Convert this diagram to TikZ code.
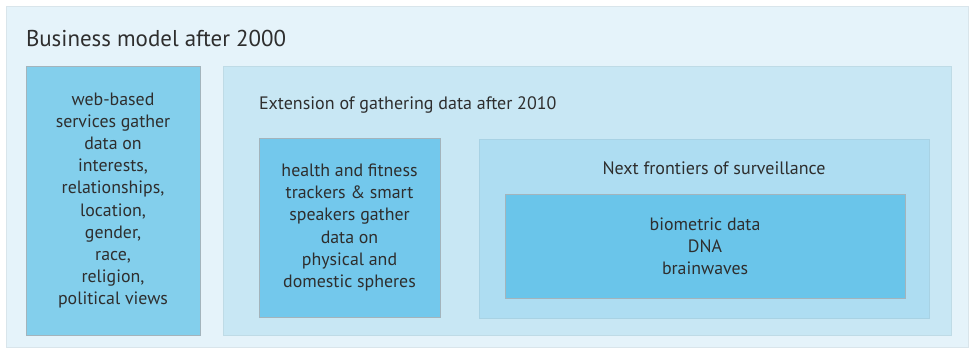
\documentclass[tikz,border=0pt]{standalone}
\usepackage{fontspec}
\setmainfont{PT Sans}
\definecolor{bgblue}{HTML}{E5F3FA}
\definecolor{midblue}{HTML}{C8E7F4}
\definecolor{lightblue}{HTML}{AEDDF2}
\definecolor{boxblue}{HTML}{83CFEC}
\definecolor{fitblue}{HTML}{73C8EC}
\definecolor{deepblue}{HTML}{6AC5EA}
\definecolor{rimgray}{HTML}{A3B4BC}
\definecolor{textgray}{HTML}{2E2E2E}
\begin{document}
\begin{tikzpicture}[x=0.025cm,y=-0.025cm,inner sep=0pt,outer sep=0pt,
panel/.style={rectangle,anchor=north west,fill=#1,draw=#1!88!gray,line width=0.5pt},
infobox/.style={rectangle,anchor=north west,fill=#1,draw=rimgray,line width=0.7pt,
  text=textgray,align=center,font=\fontsize{12.7}{15.8}\selectfont},
heading/.style={text=textgray,font=\fontsize{12.8}{15}\selectfont}]
\useasboundingbox (0,0) rectangle (972,348);
% nested panels
\node[panel=bgblue,minimum width=24.05cm,minimum height=8.525cm] (model) at (6,6) {};
\node[panel=midblue,minimum width=18.2cm,minimum height=6.725cm] (ext) at (223,66) {};
\node[panel=lightblue,minimum width=11.25cm,minimum height=4.475cm] (front) at (479,139) {};
% text boxes
\node[infobox=boxblue,minimum width=4.35cm,minimum height=6.725cm] (web) at (26,66)
  {web-based\\services gather\\data on\\interests,\\relationships,\\location,\\gender,\\race,\\religion,\\political views};
\node[infobox=fitblue,minimum width=4.525cm,minimum height=4.475cm] (fit) at (259,138)
  {health and fitness\\trackers \& smart\\speakers gather\\data on\\physical and\\domestic spheres};
\node[infobox=deepblue,minimum width=10cm,minimum height=2.6cm] (bio) at (505,194)
  {biometric data\\DNA\\brainwaves};
% headings
\node[heading,anchor=base west,font=\fontsize{16.3}{19}\selectfont] (modeltitle) at (26,47) {Business model after 2000};
\node[heading,anchor=west] (exttitle) at (259,105) {Extension of gathering data after 2010};
\node[heading] (fronttitle) at (714,168) {Next frontiers of surveillance};
\end{tikzpicture}
\end{document}
